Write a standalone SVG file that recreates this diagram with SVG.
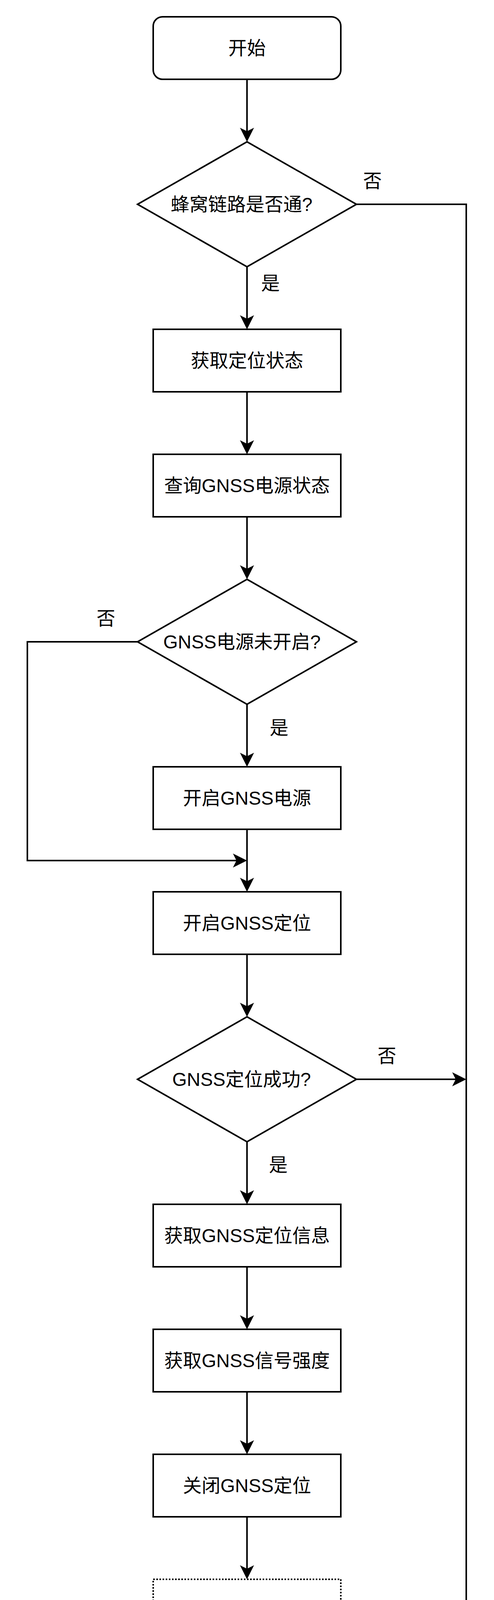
<svg xmlns="http://www.w3.org/2000/svg" width="1264" height="4564" viewBox="0 0 1264 4564">
<style>
.n{fill:#fff;stroke:#000;stroke-width:4}
.d{fill:#fff;stroke:#000;stroke-width:4;stroke-dasharray:4 4}
.t{font-family:"Liberation Sans","Noto Sans CJK SC",sans-serif;font-size:48px;fill:#000;text-anchor:middle}
.e{fill:none;stroke:#000;stroke-width:4}
</style>
<defs>
<marker id="a" markerUnits="userSpaceOnUse" markerWidth="40" markerHeight="40" viewBox="-10 -20 40 40" refX="0" refY="0" orient="auto">
<path d="M27,0 L-9,-18 L0,0 L-9,18 Z" fill="#000"/>
</marker>
</defs>
<rect width="1264" height="4564" fill="#fff"/>
<g id="edges">
<path class="e" d="M632,203 V336" marker-end="url(#a)"/>
<path class="e" d="M632,683 V816" marker-end="url(#a)"/>
<path class="e" d="M632,1003 V1136" marker-end="url(#a)"/>
<path class="e" d="M632,1323 V1456" marker-end="url(#a)"/>
<path class="e" d="M632,1803 V1936" marker-end="url(#a)"/>
<path class="e" d="M632,2123 V2256" marker-end="url(#a)"/>
<path class="e" d="M352,1643 H70 V2203 H605" marker-end="url(#a)"/>
<path class="e" d="M632,2443 V2576" marker-end="url(#a)"/>
<path class="e" d="M632,2923 V3056" marker-end="url(#a)"/>
<path class="e" d="M912,2763 H1166" marker-end="url(#a)"/>
<path class="e" d="M632,3243 V3376" marker-end="url(#a)"/>
<path class="e" d="M632,3563 V3696" marker-end="url(#a)"/>
<path class="e" d="M632,3883 V4016" marker-end="url(#a)"/>
<path class="e" d="M632,4203 V4336" marker-end="url(#a)"/>
<path class="e" d="M912,523 H1193 V4283 H659" marker-end="url(#a)"/>
<text class="t" x="953" y="480">否</text>
<text class="t" x="692" y="742">是</text>
<text class="t" x="271" y="1600">否</text>
<text class="t" x="714" y="1880">是</text>
<text class="t" x="990" y="2720">否</text>
<text class="t" x="712" y="2999">是</text>
</g>
<g id="start"><rect class="n" x="392" y="43" width="480" height="160" rx="24"/><text class="t" x="632" y="140">开始</text></g>
<g id="d1"><path class="n" d="M632,363 L912,523 L632,683 L352,523 Z"/><text class="t" x="618" y="540">蜂窝链路是否通?</text></g>
<g id="b1"><rect class="n" x="392" y="843" width="480" height="160"/><text class="t" x="632" y="940">获取定位状态</text></g>
<g id="b2"><rect class="n" x="392" y="1163" width="480" height="160"/><text class="t" x="632" y="1260">查询GNSS电源状态</text></g>
<g id="d2"><path class="n" d="M632,1483 L912,1643 L632,1803 L352,1643 Z"/><text class="t" x="619" y="1660">GNSS电源未开启?</text></g>
<g id="b3"><rect class="n" x="392" y="1963" width="480" height="160"/><text class="t" x="632" y="2060">开启GNSS电源</text></g>
<g id="b4"><rect class="n" x="392" y="2283" width="480" height="160"/><text class="t" x="632" y="2380">开启GNSS定位</text></g>
<g id="d3"><path class="n" d="M632,2603 L912,2763 L632,2923 L352,2763 Z"/><text class="t" x="618" y="2780">GNSS定位成功?</text></g>
<g id="b5"><rect class="n" x="392" y="3083" width="480" height="160"/><text class="t" x="632" y="3180">获取GNSS定位信息</text></g>
<g id="b6"><rect class="n" x="392" y="3403" width="480" height="160"/><text class="t" x="632" y="3500">获取GNSS信号强度</text></g>
<g id="b7"><rect class="n" x="392" y="3723" width="480" height="160"/><text class="t" x="632" y="3820">关闭GNSS定位</text></g>
<g id="b8"><rect class="d" x="392" y="4043" width="480" height="160"/><text class="t" x="632" y="4140">关闭GNSS电源</text></g>
<g id="end"><rect class="n" x="392" y="4363" width="480" height="160" rx="24"/><text class="t" x="632" y="4460">结束</text></g>
</svg>
